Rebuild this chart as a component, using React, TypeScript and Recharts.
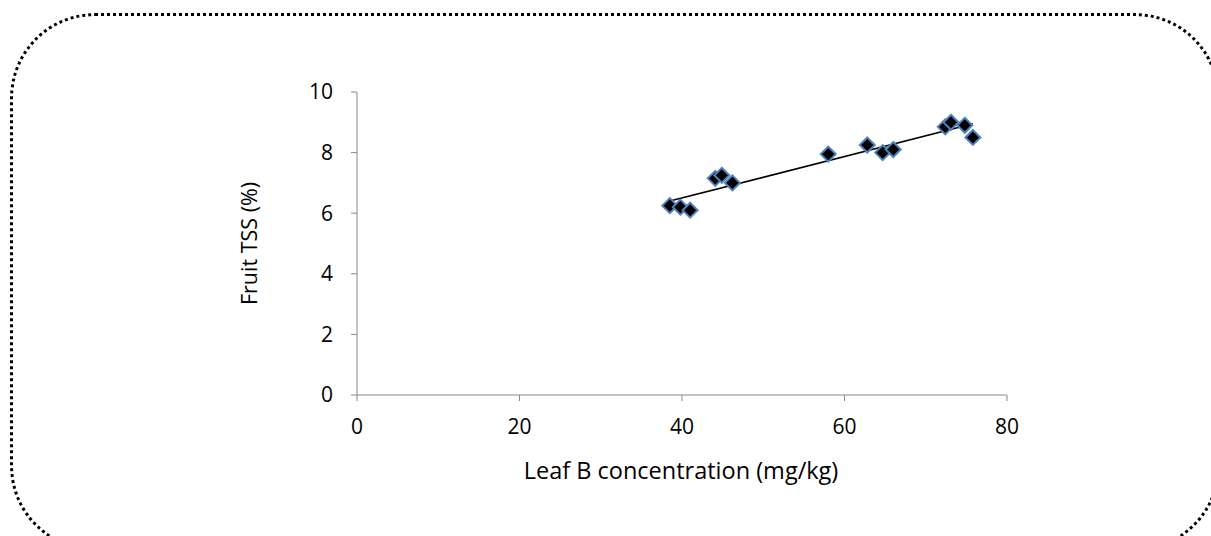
import { ScatterChart, Scatter, XAxis, YAxis } from 'recharts';

// leaf B (mg/kg) vs fruit TSS (%)
const leafB = [38.5, 39.8, 41, 44.1, 44.9, 46.2, 58, 62.8, 64.7, 66, 72.4, 73.1, 74.8, 75.8];
const fruitTSS = [6.25, 6.2, 6.1, 7.15, 7.25, 7.0, 7.95, 8.25, 8.0, 8.1, 8.85, 9.0, 8.9, 8.5];

// linear trendline ends
const trendX = [38.5, 75.8];
const trendY = [6.4, 8.95];

const xTicks = [0, 20, 40, 60, 80];
const yTicks = [0, 2, 4, 6, 8, 10];

const points = leafB.map((x, i) => ({ x, y: fruitTSS[i] }));
const trend = trendX.map((x, i) => ({ x, y: trendY[i] }));

const FONT = "'Open Sans', sans-serif";
const TICK_FS = 21;

const Diamond = (props: any) => {
  const { cx, cy } = props;
  const r = 7.5;
  return (
    <polygon
      points={`${cx},${cy - r} ${cx + r},${cy} ${cx},${cy + r} ${cx - r},${cy}`}
      fill="#000"
      stroke="#4F81BD"
      strokeWidth={2}
    />
  );
};

export default function App() {
  return (
    <div style={{ position: 'absolute', left: 0, top: 0, width: 1211, height: 536, overflow: 'hidden', background: '#fff' }}>
      <div
        style={{
          position: 'absolute',
          left: 10,
          top: 13,
          width: 1204,
          height: 532,
          border: '3px dotted #000',
          borderRadius: 85,
        }}
      />
      <div style={{ position: 'absolute', left: 0, top: 0 }}>
        <ScatterChart
          width={1211}
          height={536}
          margin={{ top: 92, right: 204, bottom: 111, left: 297 }}
        >
          <XAxis
            type="number"
            dataKey="x"
            domain={[0, 80]}
            ticks={xTicks}
            stroke="#888"
            tickSize={6}
            height={30}
            tick={{ fill: '#000', fontSize: TICK_FS, fontFamily: FONT }}
            tickMargin={18}
            label={{
              content: ({ viewBox }: any) => (
                <text
                  x={681}
                  y={470}
                  textAnchor="middle"
                  dominantBaseline="central"
                  fontSize={23.5}
                  fontFamily={FONT}
                  fill="#000"
                >
                  Leaf B concentration (mg/kg)
                </text>
              ),
            }}
          />
          <YAxis
            type="number"
            dataKey="y"
            domain={[0, 10]}
            ticks={yTicks}
            stroke="#888"
            tickSize={6}
            width={60}
            tick={{ fill: '#000', fontSize: TICK_FS, fontFamily: FONT }}
            tickMargin={18}
            label={{
              content: ({ viewBox }: any) => {
                const cx = 248;
                const cy = viewBox.y + viewBox.height / 2;
                return (
                  <text
                    x={cx}
                    y={cy}
                    transform={`rotate(-90 ${cx} ${cy})`}
                    textAnchor="middle"
                    dominantBaseline="central"
                    fontSize={21.5}
                    fontFamily={FONT}
                    fill="#000"
                  >
                    Fruit TSS (%)
                  </text>
                );
              },
            }}
          />
          <Scatter
            data={trend}
            line={{ stroke: '#000', strokeWidth: 1.6 }}
            shape={() => null}
            isAnimationActive={false}
          />
          <Scatter data={points} shape={<Diamond />} isAnimationActive={false} />
        </ScatterChart>
      </div>
    </div>
  );
}
